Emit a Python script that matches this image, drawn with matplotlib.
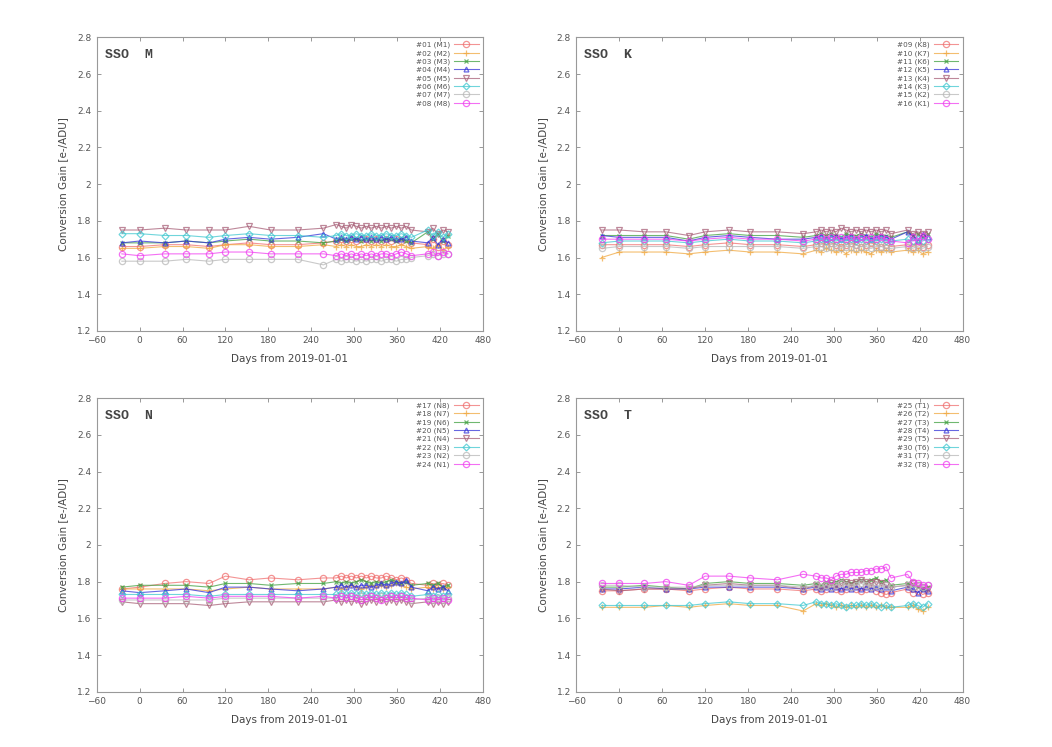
import numpy as np
import matplotlib
matplotlib.use('Agg')
import matplotlib.pyplot as plt

# days from 2019-01-01 at which gain was measured
days = [-25, 0, 35, 65, 97, 120, 153, 183, 221, 257,
        275, 282, 289, 296, 303, 310, 317, 324, 331, 338, 345, 352, 359, 366, 373, 380,
        403, 410, 417, 424, 431]

names_M = ['#01 (M1)', '#02 (M2)', '#03 (M3)', '#04 (M4)', '#05 (M5)', '#06 (M6)', '#07 (M7)', '#08 (M8)']
names_K = ['#09 (K8)', '#10 (K7)', '#11 (K6)', '#12 (K5)', '#13 (K4)', '#14 (K3)', '#15 (K2)', '#16 (K1)']
names_N = ['#17 (N8)', '#18 (N7)', '#19 (N6)', '#20 (N5)', '#21 (N4)', '#22 (N3)', '#23 (N2)', '#24 (N1)']
names_T = ['#25 (T1)', '#26 (T2)', '#27 (T3)', '#28 (T4)', '#29 (T5)', '#30 (T6)', '#31 (T7)', '#32 (T8)']

gain_M = [
    [1.66,1.66,1.67,1.67,1.66,1.67,1.68,1.67,1.67,1.68, 1.69,1.70,1.69,1.70,1.69,1.70,1.70,1.69,1.70,1.69,1.70,1.69,1.70,1.69,1.70,1.68, 1.67,1.70,1.66,1.69,1.67],
    [1.65,1.65,1.66,1.66,1.65,1.67,1.67,1.66,1.66,1.67, 1.66,1.67,1.66,1.67,1.66,1.66,1.67,1.66,1.67,1.66,1.67,1.66,1.66,1.67,1.66,1.65, 1.66,1.65,1.67,1.64,1.66],
    [1.68,1.68,1.68,1.69,1.68,1.69,1.70,1.69,1.69,1.68, 1.69,1.70,1.69,1.70,1.70,1.69,1.70,1.69,1.70,1.69,1.70,1.70,1.69,1.70,1.69,1.68, 1.74,1.70,1.73,1.69,1.72],
    [1.68,1.69,1.68,1.69,1.68,1.70,1.71,1.70,1.71,1.73, 1.70,1.71,1.70,1.71,1.70,1.71,1.70,1.71,1.70,1.71,1.70,1.71,1.70,1.70,1.71,1.69, 1.68,1.71,1.67,1.70,1.68],
    [1.75,1.75,1.76,1.75,1.75,1.75,1.77,1.75,1.75,1.76, 1.78,1.77,1.76,1.78,1.77,1.76,1.77,1.76,1.77,1.76,1.77,1.76,1.77,1.76,1.77,1.75, 1.74,1.76,1.73,1.75,1.74],
    [1.73,1.73,1.72,1.72,1.71,1.72,1.73,1.72,1.72,1.71, 1.72,1.73,1.72,1.72,1.73,1.72,1.72,1.73,1.72,1.72,1.73,1.72,1.72,1.73,1.72,1.71, 1.75,1.72,1.74,1.71,1.73],
    [1.58,1.58,1.58,1.59,1.58,1.59,1.59,1.59,1.59,1.56, 1.59,1.58,1.59,1.59,1.58,1.59,1.58,1.59,1.59,1.58,1.59,1.59,1.58,1.59,1.59,1.60, 1.61,1.62,1.61,1.62,1.62],
    [1.62,1.61,1.62,1.62,1.62,1.63,1.63,1.62,1.62,1.62, 1.61,1.62,1.61,1.62,1.61,1.62,1.61,1.62,1.61,1.62,1.62,1.61,1.62,1.63,1.62,1.61, 1.62,1.63,1.61,1.63,1.62],
]

gain_K = [
    [1.67,1.67,1.67,1.67,1.66,1.67,1.68,1.67,1.67,1.66, 1.67,1.68,1.67,1.68,1.67,1.66,1.67,1.68,1.67,1.66,1.67,1.68,1.67,1.66,1.67,1.66, 1.67,1.66,1.67,1.66,1.67],
    [1.60,1.63,1.63,1.63,1.62,1.63,1.64,1.63,1.63,1.62, 1.64,1.63,1.65,1.64,1.63,1.64,1.62,1.64,1.63,1.64,1.63,1.62,1.64,1.63,1.64,1.63, 1.64,1.63,1.64,1.62,1.63],
    [1.72,1.72,1.72,1.72,1.70,1.72,1.73,1.72,1.72,1.71, 1.72,1.73,1.72,1.73,1.72,1.71,1.73,1.72,1.72,1.73,1.72,1.71,1.73,1.72,1.72,1.71, 1.74,1.72,1.73,1.71,1.73],
    [1.72,1.71,1.71,1.71,1.69,1.71,1.72,1.71,1.70,1.70, 1.71,1.72,1.70,1.71,1.72,1.70,1.71,1.72,1.70,1.71,1.72,1.70,1.71,1.72,1.71,1.70, 1.74,1.72,1.69,1.73,1.71],
    [1.75,1.75,1.74,1.74,1.72,1.74,1.75,1.74,1.74,1.73, 1.74,1.75,1.74,1.75,1.74,1.76,1.75,1.74,1.75,1.74,1.75,1.74,1.75,1.74,1.75,1.73, 1.75,1.73,1.74,1.73,1.74],
    [1.68,1.69,1.69,1.69,1.68,1.69,1.70,1.69,1.69,1.68, 1.69,1.70,1.69,1.70,1.69,1.70,1.69,1.70,1.69,1.70,1.69,1.70,1.69,1.70,1.69,1.69, 1.70,1.69,1.70,1.69,1.70],
    [1.65,1.66,1.66,1.66,1.65,1.66,1.66,1.66,1.66,1.65, 1.66,1.66,1.65,1.66,1.66,1.65,1.66,1.66,1.65,1.66,1.66,1.65,1.66,1.66,1.65,1.65, 1.66,1.65,1.66,1.65,1.66],
    [1.70,1.70,1.70,1.70,1.69,1.70,1.71,1.70,1.70,1.69, 1.70,1.71,1.70,1.71,1.70,1.71,1.70,1.71,1.70,1.71,1.70,1.71,1.70,1.71,1.70,1.69, 1.68,1.71,1.69,1.72,1.70],
]

gain_N = [
    [1.76,1.77,1.79,1.80,1.79,1.83,1.81,1.82,1.81,1.82, 1.82,1.83,1.82,1.83,1.82,1.83,1.82,1.83,1.82,1.82,1.83,1.82,1.81,1.82,1.81,1.79, 1.78,1.79,1.78,1.79,1.78],
    [1.76,1.76,1.76,1.76,1.75,1.76,1.77,1.76,1.76,1.76, 1.77,1.76,1.77,1.78,1.77,1.76,1.77,1.78,1.77,1.78,1.77,1.78,1.79,1.78,1.77,1.76, 1.77,1.76,1.77,1.76,1.77],
    [1.77,1.78,1.78,1.78,1.77,1.79,1.79,1.78,1.79,1.79, 1.80,1.79,1.80,1.79,1.80,1.81,1.80,1.79,1.80,1.79,1.80,1.81,1.80,1.79,1.80,1.78, 1.79,1.78,1.79,1.77,1.78],
    [1.75,1.74,1.75,1.76,1.74,1.77,1.77,1.76,1.75,1.76, 1.77,1.78,1.77,1.78,1.77,1.78,1.78,1.77,1.78,1.79,1.78,1.79,1.80,1.79,1.81,1.77, 1.75,1.77,1.76,1.77,1.75],
    [1.69,1.68,1.68,1.68,1.67,1.68,1.69,1.69,1.69,1.69, 1.70,1.69,1.70,1.69,1.70,1.68,1.69,1.70,1.69,1.70,1.69,1.70,1.69,1.70,1.69,1.68, 1.69,1.68,1.69,1.68,1.69],
    [1.73,1.73,1.73,1.73,1.72,1.73,1.73,1.73,1.73,1.73, 1.73,1.74,1.73,1.74,1.73,1.74,1.73,1.74,1.73,1.74,1.73,1.74,1.73,1.74,1.73,1.72, 1.73,1.72,1.73,1.72,1.73],
    [1.70,1.70,1.70,1.70,1.70,1.71,1.71,1.71,1.71,1.71, 1.71,1.72,1.71,1.72,1.71,1.72,1.71,1.72,1.71,1.72,1.71,1.72,1.71,1.72,1.71,1.70, 1.71,1.70,1.71,1.70,1.71],
    [1.71,1.71,1.71,1.72,1.71,1.72,1.72,1.72,1.71,1.72, 1.71,1.72,1.71,1.72,1.71,1.70,1.71,1.72,1.71,1.70,1.71,1.72,1.71,1.72,1.71,1.71, 1.70,1.71,1.70,1.71,1.70],
]

gain_T = [
    [1.75,1.75,1.76,1.76,1.75,1.76,1.77,1.76,1.76,1.75, 1.76,1.75,1.76,1.77,1.76,1.75,1.76,1.77,1.76,1.75,1.76,1.77,1.75,1.74,1.73,1.74, 1.76,1.74,1.75,1.73,1.74],
    [1.66,1.66,1.66,1.67,1.66,1.67,1.68,1.67,1.67,1.64, 1.68,1.67,1.68,1.67,1.66,1.67,1.66,1.67,1.66,1.67,1.66,1.67,1.66,1.67,1.66,1.66, 1.66,1.67,1.65,1.64,1.66],
    [1.77,1.77,1.78,1.77,1.76,1.79,1.80,1.79,1.79,1.78, 1.79,1.78,1.80,1.79,1.80,1.81,1.80,1.79,1.80,1.81,1.80,1.81,1.82,1.80,1.81,1.78, 1.79,1.78,1.77,1.76,1.77],
    [1.76,1.76,1.77,1.76,1.76,1.77,1.77,1.77,1.77,1.76, 1.77,1.76,1.77,1.76,1.77,1.76,1.77,1.76,1.77,1.76,1.77,1.76,1.77,1.76,1.77,1.75, 1.77,1.76,1.74,1.76,1.75],
    [1.76,1.75,1.76,1.76,1.76,1.78,1.79,1.78,1.78,1.76, 1.78,1.77,1.78,1.79,1.78,1.79,1.80,1.79,1.80,1.81,1.80,1.79,1.80,1.79,1.78,1.77, 1.78,1.79,1.78,1.77,1.76],
    [1.67,1.67,1.67,1.67,1.67,1.68,1.69,1.68,1.68,1.67, 1.69,1.68,1.68,1.67,1.68,1.67,1.66,1.67,1.67,1.68,1.67,1.68,1.67,1.66,1.67,1.66, 1.67,1.68,1.67,1.66,1.68],
    [1.78,1.78,1.77,1.77,1.77,1.78,1.78,1.78,1.78,1.77, 1.78,1.77,1.78,1.77,1.78,1.79,1.78,1.77,1.78,1.79,1.78,1.77,1.78,1.77,1.78,1.77, 1.78,1.77,1.78,1.77,1.78],
    [1.79,1.79,1.79,1.80,1.78,1.83,1.83,1.82,1.81,1.84, 1.83,1.82,1.82,1.81,1.83,1.84,1.84,1.85,1.85,1.85,1.86,1.86,1.87,1.87,1.88,1.82, 1.84,1.80,1.79,1.78,1.78],
]

colors = ['#f07070', '#f0a840', '#40a040', '#3434d8', '#a86078', '#40c8d0', '#b8b8b8', '#f040f0']
markers = ['o', '+', 'x', '^', 'v', 'D', 'o', 'o']
msizes = [4.5, 4.5, 3.5, 3.5, 4, 3.5, 4.5, 4.5]

panels = [('SSO  M', names_M, gain_M), ('SSO  K', names_K, gain_K),
          ('SSO  N', names_N, gain_N), ('SSO  T', names_T, gain_T)]
pos = [[0.092, 0.557, 0.367, 0.393], [0.548, 0.557, 0.367, 0.393],
       [0.092, 0.074, 0.367, 0.393], [0.548, 0.074, 0.367, 0.393]]

txt = '#444444'
fig = plt.figure(figsize=(10.52, 7.47), dpi=100)
for p, (title, names, gains) in enumerate(panels):
    ax = fig.add_axes(pos[p])
    for i in range(8):
        ax.plot(days, gains[i], color=colors[i], marker=markers[i], ms=msizes[i],
                mfc='none', mew=0.9, lw=0.8, alpha=0.75, label=names[i])
    ax.set_xlim(-60, 480)
    ax.set_ylim(1.2, 2.8)
    ax.set_xticks(np.arange(-60, 481, 60))
    ax.set_yticks([1.2, 1.4, 1.6, 1.8, 2.0, 2.2, 2.4, 2.6, 2.8])
    ax.set_yticklabels(['1.2', '1.4', '1.6', '1.8', '2', '2.2', '2.4', '2.6', '2.8'])
    ax.tick_params(direction='in', top=True, right=True, length=3, width=0.6,
                   labelsize=6.5, colors='#888888', labelcolor='#555555', pad=4)
    for s in ax.spines.values():
        s.set_color('#999999')
        s.set_linewidth(0.8)
    ax.set_xlabel('Days from 2019-01-01', fontsize=7.5, color=txt, labelpad=6)
    ax.set_ylabel('Conversion Gain [e-/ADU]', fontsize=7.5, color=txt, labelpad=6)
    ax.text(0.02, 0.96, title, transform=ax.transAxes, family='Liberation Mono',
            fontweight='bold', fontsize=9.5, color=txt, va='top', ha='left')
    leg = ax.legend(loc='upper right', fontsize=5.2, frameon=False, markerfirst=False,
                    handlelength=3.4, labelspacing=0.25, borderaxespad=0.2,
                    handletextpad=0.6, labelcolor='#555555')

fig.savefig('out.png', dpi=100)
